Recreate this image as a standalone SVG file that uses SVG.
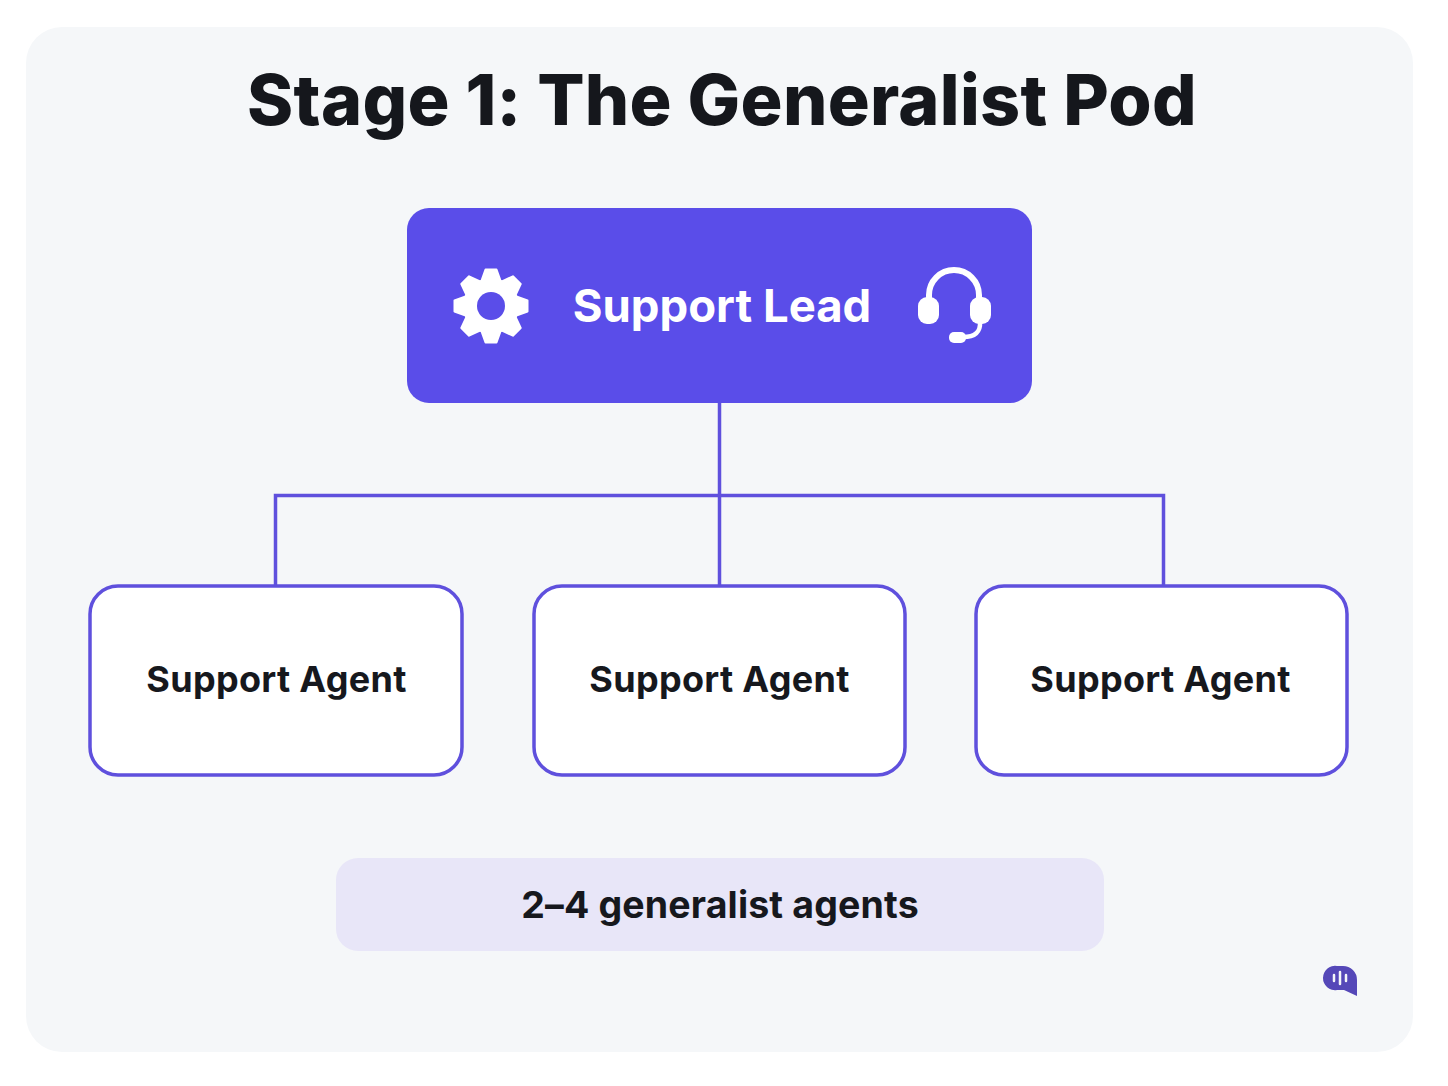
<svg xmlns="http://www.w3.org/2000/svg" width="1448" height="1086" viewBox="0 0 1448 1086">
<style>
text{font-family:Inter,"Liberation Sans",sans-serif;text-anchor:middle}
.title{font-size:70px;font-weight:800;fill:#15171c;letter-spacing:.3px}
.lead{font-size:45.500px;font-weight:700;fill:#fff}
.agent{font-size:36px;font-weight:700;fill:#16181d;letter-spacing:.3px}
.note{font-size:37.500px;font-weight:700;fill:#16181d;letter-spacing:.15px}
.box{fill:#fff;stroke:#5f50dd;stroke-width:3.5}
.conn{fill:none;stroke:#5f50dd;stroke-width:3.5}
</style>
<defs>
<path id="tooth" d="M-10 -24L-5.500 -36.500H5.500L10 -24Z" stroke="#fff" stroke-width="2" stroke-linejoin="round"/>
</defs>
<rect width="1448" height="1086" fill="#fff"/>
<rect id="panel" x="26" y="27" width="1387" height="1025" rx="36" fill="#f5f7f9"/>
<text class="title" x="722" y="125">Stage 1: The Generalist Pod</text>
<g id="connectors">
<path class="conn" d="M719.500 403V585M275.500 585V495.500H1163.500V585"/>
</g>
<g id="lead">
<rect x="407" y="208" width="625" height="195" rx="22" fill="#5a4de9"/>
<g fill="#fff" transform="translate(491 306)">
<circle r="28"/>
<use href="#tooth"/>
<use href="#tooth" transform="rotate(45)"/>
<use href="#tooth" transform="rotate(90)"/>
<use href="#tooth" transform="rotate(135)"/>
<use href="#tooth" transform="rotate(180)"/>
<use href="#tooth" transform="rotate(225)"/>
<use href="#tooth" transform="rotate(270)"/>
<use href="#tooth" transform="rotate(315)"/>
<circle r="14" fill="#5a4de9"/>
</g>
<text class="lead" x="722" y="322">Support Lead</text>
<g>
<path d="M929 300V295A25 25 0 0 1 979 295V300" fill="none" stroke="#fff" stroke-width="6"/>
<rect x="918" y="297" width="21" height="27" rx="9" fill="#fff"/>
<rect x="970" y="297" width="21" height="27" rx="9" fill="#fff"/>
<path d="M980 322Q981 337 963 337" fill="none" stroke="#fff" stroke-width="4.500"/>
<rect x="949" y="332" width="17" height="11" rx="5" fill="#fff"/>
</g>
</g>
<g id="agent1"><rect class="box" x="90" y="586" width="372" height="189" rx="28"/><text class="agent" x="276.500" y="692">Support Agent</text></g>
<g id="agent2"><rect class="box" x="534" y="586" width="371" height="189" rx="28"/><text class="agent" x="719.500" y="692">Support Agent</text></g>
<g id="agent3"><rect class="box" x="976" y="586" width="371" height="189" rx="28"/><text class="agent" x="1160.500" y="692">Support Agent</text></g>
<g id="note"><rect x="336" y="858" width="768" height="93" rx="22" fill="#e8e6f8"/><text class="note" x="720" y="918">2–4 generalist agents</text></g>
<g id="logo">
<path d="M1337 966H1343A14 14 0 0 1 1357 980V996L1344 990H1337A12 12 0 0 1 1323 978A12 12 0 0 1 1337 966Z" fill="#5548b8"/>
<path d="M1334 975V981M1340 972V984M1346 975V981" stroke="#f5f7f9" stroke-width="2.500" stroke-linecap="round"/>
</g>
</svg>
